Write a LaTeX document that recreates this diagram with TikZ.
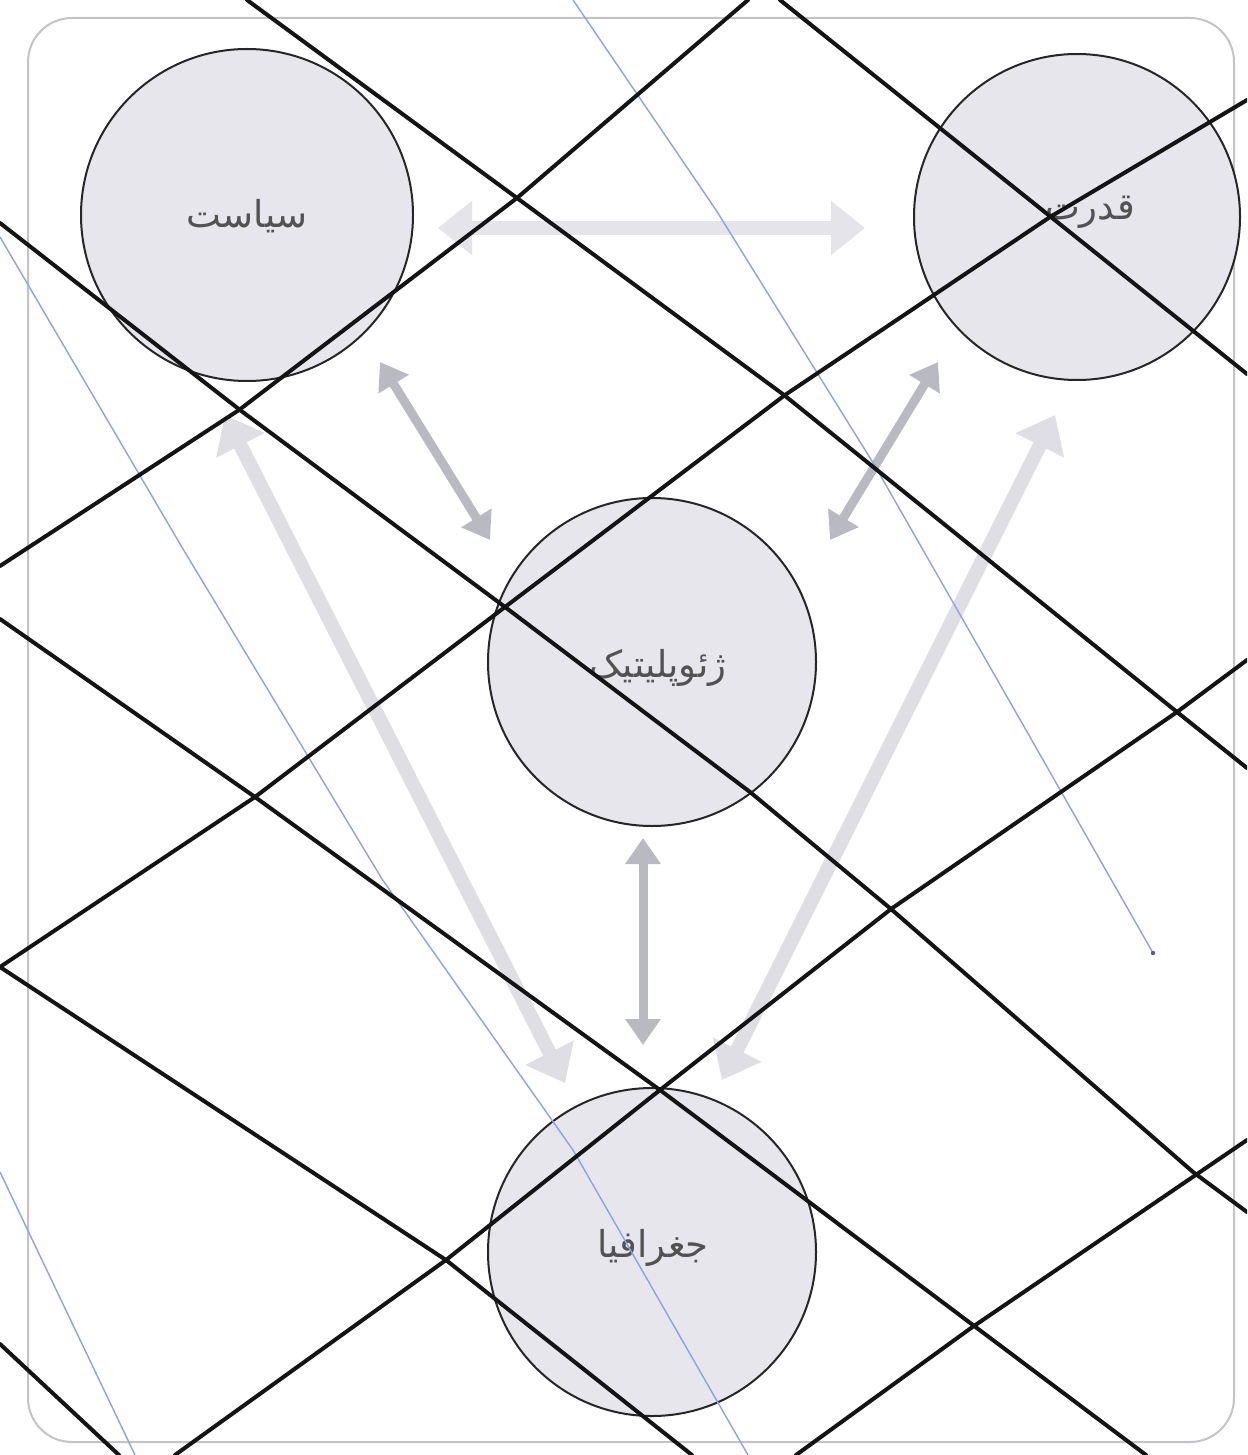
\documentclass[tikz,border=0pt]{standalone}
\usepackage{fontspec}
\newfontfamily\arabicfont[Script=Arabic]{DejaVu Sans}
\TeXXeTstate=1
\usetikzlibrary{arrows.meta}
\definecolor{bubfill}{HTML}{E6E6EC}
\definecolor{arrmid}{HTML}{B9B9C1}
\definecolor{arrfaint}{HTML}{DEDEE4}
\definecolor{arrpale}{HTML}{E4E4EA}
\definecolor{penblue}{HTML}{8CA2E2}
\definecolor{framegray}{HTML}{C4C4C8}
\begin{document}
\begin{tikzpicture}[x=0.5pt,y=-0.5pt,
  ink/.style={line width=2pt, draw=black!92, line cap=round, line join=round},
  pen/.style={line width=0.7pt, draw=penblue, line join=round},
  bub/.style={circle, draw=black!85, line width=1pt, fill=bubfill, inner sep=0pt},
  lbl/.style={font=\arabicfont\fontsize{18.5}{22}\selectfont, text=black!68, inner sep=0pt},
  link/.style={line width=4.5pt, draw=arrmid, {Triangle[length=13pt,width=17pt]}-{Triangle[length=13pt,width=17pt]}},
  faint/.style={line width=7pt, draw=arrfaint, {Triangle[length=17pt,width=26pt]}-{Triangle[length=17pt,width=26pt]}},
  pale/.style={faint, draw=arrpale},
]
\fill[white] (0,0) rectangle (1247,1455);
\useasboundingbox (0,0) rectangle (1247,1455);
\clip (0,0) rectangle (1247,1455);

% frame
\draw[framegray, line width=1pt, rounded corners=22pt] (28,18) rectangle (1234,1442);

% arrow end points
\coordinate (a1s) at (438,228);
\coordinate (a1e) at (865,228);
\coordinate (a2s) at (380,362);
\coordinate (a2e) at (490,540);
\coordinate (a3s) at (938,362);
\coordinate (a3e) at (830,540);
\coordinate (a4s) at (225,415);
\coordinate (a4e) at (565,1083);
\coordinate (a5s) at (1055,415);
\coordinate (a5e) at (722,1080);
\coordinate (a6s) at (643,838);
\coordinate (a6e) at (643,1045);

% arrows
\draw[pale] (a1s) -- (a1e);
\draw[faint] (a4s) -- (a4e);
\draw[faint] (a5s) -- (a5e);
\draw[link] (a2s) -- (a2e);
\draw[link] (a3s) -- (a3e);
\draw[link] (a6s) -- (a6e);

% circles
\node[bub, minimum size=166pt] (pol) at (247,215) {};
\node[bub, minimum size=163pt] (pow) at (1077,217) {};
\node[bub, minimum size=164pt] (geop) at (652,662) {};
\node[bub, minimum size=164pt] (geog) at (652,1252) {};

% labels
\node[lbl] (tpol) at (247,216) {\beginR سیاست\endR};
\node[lbl] (tpow) at (1090,212) {\beginR قدرت\endR};
\node[lbl] (tgeop) at (658,668) {\beginR ژئوپلیتیک\endR};
\node[lbl] (tgeog) at (653,1248) {\beginR جغرافیا\endR};

% blue pen lines
\draw[pen] (573,0) -- (716,210) -- (875,466) -- (1026,730) -- (1153,953);
\fill[penblue!60!black] (1153,953) circle (2.2);
\draw[pen] (0,237) -- (183,549) -- (382,879) -- (573,1150) -- (748,1455);
\draw[pen] (0,1172) -- (135,1455);

% black hatching lines
\draw[ink] (247,0) -- (517,198) -- (784,395) -- (1177,712) -- (1247,768);
\draw[ink] (780,0) -- (1247,374);
\draw[ink] (0,223) -- (240,410) -- (505,607) -- (750,792) -- (891,909) -- (1193,1172) -- (1247,1212);
\draw[ink] (0,619) -- (255,797) -- (660,1090) -- (1146,1455);
\draw[ink] (0,967) -- (446,1260) -- (692,1455);
\draw[ink] (0,1344) -- (119,1455);
\draw[ink] (748,0) -- (517,198) -- (239,410) -- (0,566);
\draw[ink] (1247,100) -- (1050,217) -- (785,395) -- (505,607) -- (255,797) -- (0,967);
\draw[ink] (1247,660) -- (1177,712) -- (891,909) -- (660,1090) -- (446,1260) -- (175,1455);
\draw[ink] (1247,1140) -- (971,1328) -- (796,1455);
\end{tikzpicture}
\end{document}
